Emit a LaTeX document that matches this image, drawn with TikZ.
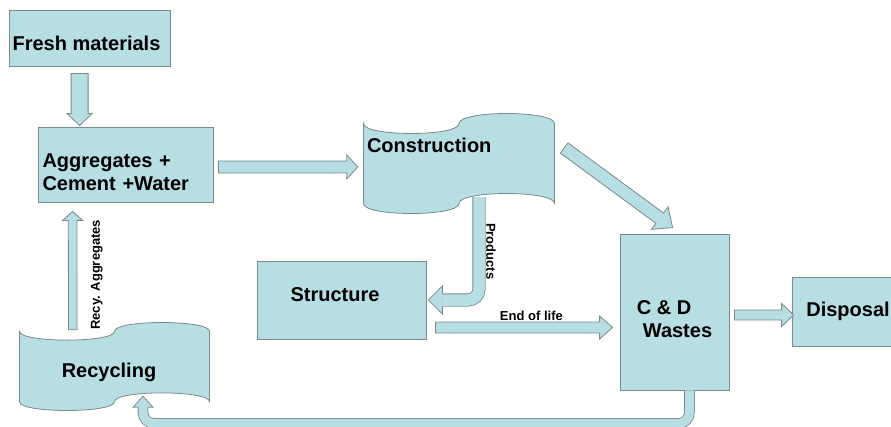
\documentclass[tikz,border=0pt]{standalone}
\usepackage{fontspec}
\setmainfont{Liberation Sans}
\usetikzlibrary{calc}

\definecolor{boxfill}{RGB}{183,222,226}
\definecolor{boxline}{RGB}{122,138,142}

% wavy outline of the tape boxes, drawn inside the node
\newcommand{\tapeoutline}{%
  \filldraw[draw=boxline, fill=boxfill, line width=0.8pt]
    let \p1=($(path picture bounding box.north west)+(0.5pt,-0.5pt)$),
        \p2=($(path picture bounding box.south east)+(-0.5pt,0.5pt)$),
        \n1={(\x1+\x2)/2}, \n2={(\y1-\y2)/10}, \n3={\y1-\n2}, \n4={\y2+\n2}, \n5={\n2*4/3} in
    (\x1,\n3) .. controls (\x1,\n3-\n5) and (\n1,\n3-\n5) .. (\n1,\n3)
      .. controls (\n1,\n3+\n5) and (\x2,\n3+\n5) .. (\x2,\n3)
      -- (\x2,\n4) .. controls (\x2,\n4+\n5) and (\n1,\n4+\n5) .. (\n1,\n4)
      .. controls (\n1,\n4-\n5) and (\x1,\n4-\n5) .. (\x1,\n4) -- cycle;
}

% straight block arrow: start, tip, shaft half width, head half width, head length
\newcommand{\blockarrow}[5]{%
  \coordinate (ba-s) at (#1);
  \coordinate (ba-t) at (#2);
  \coordinate (ba-h) at ($(ba-t)!#5!(ba-s)$);
  \filldraw[arrowbody] ($(ba-s)!#3!90:(ba-t)$) -- ($(ba-h)!#3!90:(ba-t)$)
    -- ($(ba-h)!#4!90:(ba-t)$) -- (ba-t) -- ($(ba-h)!#4!-90:(ba-t)$)
    -- ($(ba-h)!#3!-90:(ba-t)$) -- ($(ba-s)!#3!-90:(ba-t)$) -- cycle;
}

% head only, for the bent arrows: base, tip, shaft half width, head half width
\newcommand{\blockhead}[4]{%
  \coordinate (bh-b) at (#1);
  \coordinate (bh-t) at (#2);
  \filldraw[arrowbody] ($(bh-b)!#3!90:(bh-t)$) -- ($(bh-b)!#4!90:(bh-t)$)
    -- (bh-t) -- ($(bh-b)!#4!-90:(bh-t)$) -- ($(bh-b)!#3!-90:(bh-t)$);
}

\tikzset{
  box/.style={draw=boxline, fill=boxfill, line width=0.8pt, inner sep=0pt},
  tape/.style={inner sep=0pt, path picture={\tapeoutline}},
  inlbl/.style={inner sep=0pt, align=left},
  small/.style={font=\bfseries\fontsize{13}{15}\selectfont, inner sep=0pt},
  arrowbody/.style={draw=boxline, fill=boxfill, line width=0.8pt},
  shaft/.style={draw=boxline, line width=0.8pt, double=boxfill, double distance=#1, rounded corners=11pt},
}

\begin{document}
\begin{tikzpicture}[x=1pt, y=-1pt, font=\bfseries\fontsize{20}{23}\selectfont]
  \clip (0,0) rectangle (891,426);

  % boxes
  \node[box, minimum width=161pt, minimum height=56pt,
        label={[inlbl, xshift=-3pt, yshift=-5pt]center:Fresh materials}] (fresh) at (89.5,38) {};
  \node[box, minimum width=175pt, minimum height=75pt,
        label={[inlbl, text width=166pt, yshift=-7.5pt]center:Aggregates +\\Cement +Water}] (agg) at (125.5,164.5) {};
  \node[tape, minimum width=192pt, minimum height=101pt,
        label={[inlbl, anchor=north west, xshift=4pt, yshift=-25pt]north west:Construction}] (constr) at (459,163.5) {};
  \node[tape, minimum width=191pt, minimum height=89pt,
        label={[inlbl, xshift=-5.5pt, yshift=-5.5pt]center:Recycling}] (recy) at (114.5,366.5) {};
  \node[box, minimum width=169pt, minimum height=78pt,
        label={[inlbl, xshift=-6.5pt, yshift=5pt]center:Structure}] (structure) at (341.5,300) {};
  \node[box, minimum width=109pt, minimum height=156pt,
        label={[inlbl, yshift=-7.5pt]center:C \& D\\\hspace*{6pt}Wastes}] (cdw) at (674.5,312) {};
  \node[box, minimum width=108pt, minimum height=69pt,
        label={[inlbl, xshift=2pt]center:Disposal}] (disp) at (846,311.5) {};

  % straight arrows
  \blockarrow{$(fresh.south west)+(71,7)$}{$(agg.north west)+(42,-1)$}{8.5pt}{12.5pt}{12pt}
  \blockarrow{$(agg.east)+(5,2.5)$}{$(constr.west)+(-5,3.5)$}{6pt}{12pt}{11pt}
  \blockarrow{$(constr.east)+(9,-15.5)$}{$(cdw.north west)+(53,-6)$}{6.4pt}{14pt}{16pt}
  \blockarrow{$(structure.east)+(9,27.5)$}{$(cdw.west)+(-7,15.5)$}{5.5pt}{11.5pt}{13pt}
  \blockarrow{$(cdw.east)+(5,3)$}{$(disp.west)+(2,3.5)$}{5pt}{11.5pt}{12pt}
  \blockarrow{$(recy.north west)+(54,8)$}{$(agg.south west)+(35,9)$}{4.3pt}{10pt}{9pt}

  % bent arrows
  \coordinate (pr-s) at ($(constr.south)+(20,-17)$);
  \coordinate (pr-t) at ($(structure.east)+(2,0)$);
  \draw[shaft=11.5pt] (pr-s) |- ($(pr-t)+(14,0)$);
  \blockhead{$(pr-t)+(14,0)$}{pr-t}{6.5pt}{14pt}

  \coordinate (rt-s) at ($(cdw.south)+(15,0)$);
  \coordinate (rt-t) at ($(recy.south)+(28.5,-15)$);
  \draw[shaft=9pt] (rt-s) -- ($(rt-s)+(0,33)$) -| ($(rt-t)+(0,11)$);
  \blockhead{$(rt-t)+(0,11)$}{rt-t}{5pt}{10pt}

  % arrow labels
  \node[small, rotate=90] (recylbl) at ($(recy.north west)+(78,-47)$) {Recy. Aggregates};
  \node[small, rotate=-90] (prodlbl) at ($(constr.south)+(32,37)$) {Products};
  \node[small] (eollbl) at ($(structure.east)+(105,16)$) {End of life};
\end{tikzpicture}
\end{document}
